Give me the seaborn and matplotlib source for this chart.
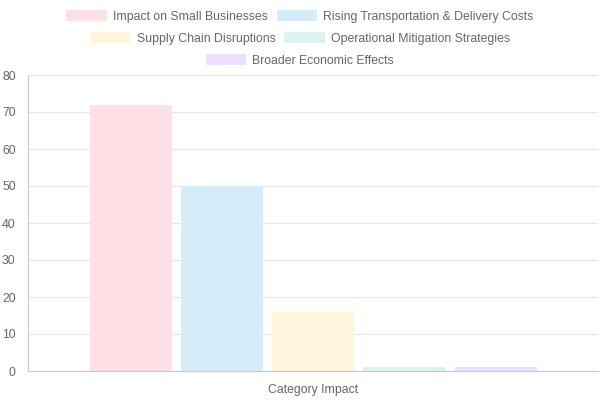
import pandas as pd
import matplotlib
matplotlib.use("Agg")
import matplotlib.pyplot as plt
from matplotlib.patches import Patch
import seaborn as sns

# Data
categories = ["Category Impact"]
series_names = [
    "Impact on Small Businesses",
    "Rising Transportation & Delivery Costs",
    "Supply Chain Disruptions",
    "Operational Mitigation Strategies",
    "Broader Economic Effects",
]
series_values = [72, 50, 16, 1, 1]
fill_colors = ["#ffe0e6", "#d7ecfb", "#fff5dd", "#dbf2f2", "#ebe0ff"]

df = pd.DataFrame({
    "category": categories * len(series_names),
    "series": series_names,
    "value": series_values,
})

sns.set_style("white")
plt.rcParams["font.family"] = ["Liberation Sans", "DejaVu Sans"]

fig = plt.figure(figsize=(6, 4), dpi=100)
ax = fig.add_axes([0.047, 0.0725, 0.95, 0.74])

sns.barplot(data=df, x="category", y="value", hue="series",
            palette=fill_colors, saturation=1, width=0.8, gap=0.1, ax=ax,
            edgecolor="none", legend=False)

ax.set_xlim(-0.5, 0.5)
ax.set_ylim(0, 80)
ax.set_yticks(range(0, 81, 10))
ax.set_xticks([-0.5], minor=True)
ax.set_xlabel("")
ax.set_ylabel("")
ax.grid(axis="y", color="#e5e5e5", linewidth=0.8)
ax.set_axisbelow(True)
for side in ["top", "right"]:
    ax.spines[side].set_visible(False)
for side in ["left", "bottom"]:
    ax.spines[side].set_color("#c8c8c8")
    ax.spines[side].set_linewidth(0.8)
ax.tick_params(axis="y", colors="#e5e5e5", labelcolor="#666666", labelsize=8.8,
               length=6, width=0.8, pad=3)
ax.tick_params(axis="x", which="major", labelcolor="#666666", labelsize=8.8,
               length=0, pad=9)
ax.tick_params(axis="x", which="minor", colors="#c8c8c8", length=6, width=0.8)

# legend in centred rows like the original
handles = [Patch(facecolor=c, edgecolor="none") for c in fill_colors]
rows = [[0, 1], [2, 3], [4]]
row_y = [0.958, 0.903, 0.848]
for idx, y in zip(rows, row_y):
    leg = fig.legend([handles[i] for i in idx], [series_names[i] for i in idx],
                     loc="center", bbox_to_anchor=(0.5, y), ncol=len(idx),
                     frameon=False, fontsize=8.8, handlelength=3.3,
                     handleheight=1.0, handletextpad=0.5, columnspacing=0.75,
                     borderaxespad=0, borderpad=0)
    for t in leg.get_texts():
        t.set_color("#666666")

fig.savefig("out.png", dpi=100)
